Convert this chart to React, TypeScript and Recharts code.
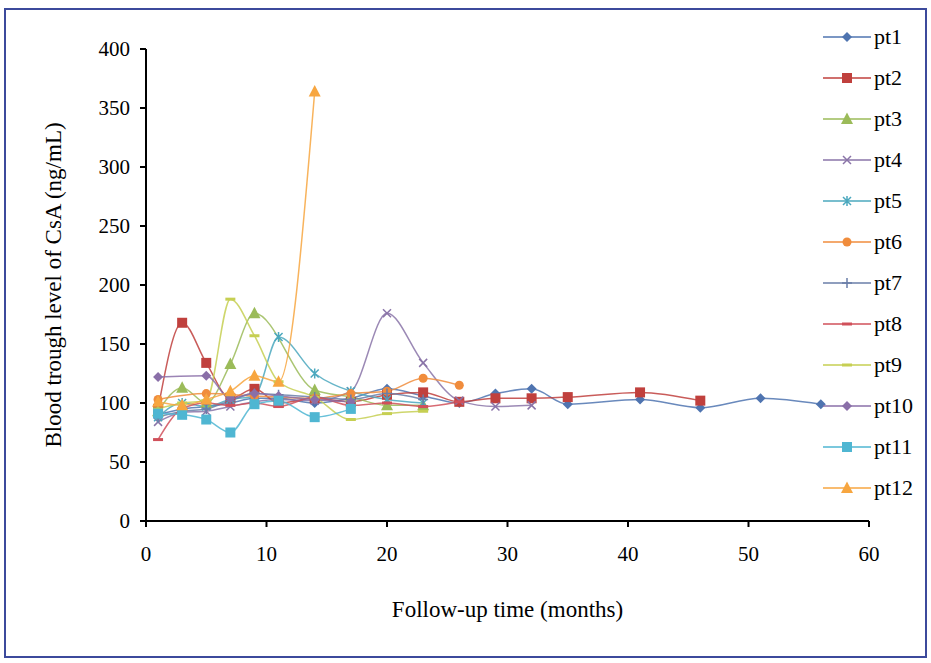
import React from 'react'
import { Legend, Line, LineChart, XAxis, YAxis } from 'recharts'

// follow-up visits (months) shared by all patients
const visitMonths = [1, 3, 5, 7, 9, 11, 14, 17, 20, 23, 26, 29, 32, 35, 41, 46, 51, 56]

// CsA trough levels (ng/mL), aligned with visitMonths; null = no measurement
const pt1Values = [90, 95, 97, 100, 104, 104, 100, 104, 112, 106, 100, 108, 112, 99, 103, 96, 104, 99]
const pt2Values = [95, 168, 134, 104, 112, 100, 104, 101, 107, 109, 101, 104, 104, 105, 109, 102]
const pt3Values = [93, 113, 100, 133, 176, null, 111, 105, 98, 98]
const pt4Values = [84, 92, 93, 97, 101, 103, 102, 110, 176, 134, 102, 97, 98]
const pt5Values = [88, 100, 97, 103, 106, 156, 125, 110, 103, 100]
const pt6Values = [103, null, 108, null, 106, null, 104, 108, 110, 121, 115]
const pt7Values = [88, 93, 95, 102, 108, 107, 105, 103, 108, 103]
const pt8Values = [69, 95, 100, 98, 100, 97, 105, 98, 100, 97, 101]
const pt9Values = [95, 100, 102, 188, 157, 118, 105, 86, 91, 93]
const pt10Values = [122, null, 123, 104, 108, 106, 103, 101]
const pt11Values = [91, 90, 86, 75, 99, 102, 88, 95]
const pt12Values = [101, 98, 103, 110, 123, 118, 364]

const xTicks = [0, 10, 20, 30, 40, 50, 60]
const yTicks = [0, 50, 100, 150, 200, 250, 300, 350, 400]

type Shape = 'diamond' | 'square' | 'triangle' | 'x' | 'star' | 'circle' | 'plus' | 'dash'

const series: { name: string; values: (number | null)[]; color: string; shape: Shape }[] = [
    { name: 'pt1', values: pt1Values, color: '#4f74b0', shape: 'diamond' },
    { name: 'pt2', values: pt2Values, color: '#c0403d', shape: 'square' },
    { name: 'pt3', values: pt3Values, color: '#9bbb59', shape: 'triangle' },
    { name: 'pt4', values: pt4Values, color: '#8a74a8', shape: 'x' },
    { name: 'pt5', values: pt5Values, color: '#4ba8be', shape: 'star' },
    { name: 'pt6', values: pt6Values, color: '#f08c3c', shape: 'circle' },
    { name: 'pt7', values: pt7Values, color: '#6a7ea8', shape: 'plus' },
    { name: 'pt8', values: pt8Values, color: '#d0505a', shape: 'dash' },
    { name: 'pt9', values: pt9Values, color: '#c6cf52', shape: 'dash' },
    { name: 'pt10', values: pt10Values, color: '#8a6fa8', shape: 'diamond' },
    { name: 'pt11', values: pt11Values, color: '#4fb6d2', shape: 'square' },
    { name: 'pt12', values: pt12Values, color: '#f7a640', shape: 'triangle' },
]

const FONT = '"Liberation Serif", "DejaVu Serif", serif'

const Marker = ({ x, y, shape, color }: { x: number; y: number; shape: Shape; color: string }) => {
    switch (shape) {
        case 'diamond':
            return <polygon points={`${x},${y - 5} ${x + 5},${y} ${x},${y + 5} ${x - 5},${y}`} fill={color} />
        case 'square':
            return <rect x={x - 5} y={y - 5} width={10} height={10} fill={color} />
        case 'triangle':
            return <polygon points={`${x},${y - 6.5} ${x + 6},${y + 5} ${x - 6},${y + 5}`} fill={color} />
        case 'x':
            return (
                <path d={`M${x - 4},${y - 4}L${x + 4},${y + 4}M${x - 4},${y + 4}L${x + 4},${y - 4}`} stroke={color} strokeWidth={1.5} />
            )
        case 'star':
            return (
                <path
                    d={`M${x - 4},${y - 4}L${x + 4},${y + 4}M${x - 4},${y + 4}L${x + 4},${y - 4}M${x},${y - 5}L${x},${y + 5}`}
                    stroke={color}
                    strokeWidth={1.5}
                />
            )
        case 'circle':
            return <circle cx={x} cy={y} r={4.5} fill={color} />
        case 'plus':
            return <path d={`M${x - 5},${y}L${x + 5},${y}M${x},${y - 5}L${x},${y + 5}`} stroke={color} strokeWidth={1.5} />
        case 'dash':
            return <path d={`M${x - 5},${y}L${x + 5},${y}`} stroke={color} strokeWidth={3} />
    }
}

const LegendList = () => (
    <div style={{ fontFamily: FONT, fontSize: 22, color: '#000' }}>
        {series.map(s => (
            <div key={s.name} style={{ height: 41, display: 'flex', alignItems: 'center' }}>
                <svg width={48} height={16} style={{ overflow: 'visible' }}>
                    <line x1={0} y1={8} x2={48} y2={8} stroke={s.color} strokeWidth={1.5} />
                    <Marker x={24} y={8} shape={s.shape} color={s.color} />
                </svg>
                <span style={{ marginLeft: 3 }}>{s.name}</span>
            </div>
        ))}
    </div>
)

const App = () => {
    return (
        <div
            style={{
                position: 'absolute',
                left: 4,
                top: 8,
                width: 919,
                height: 646,
                border: '2px solid #3c4a9c',
                background: '#fff',
            }}
        >
            <LineChart width={919} height={646} margin={{ top: 39, right: 56, bottom: 75, left: 80 }}>
                <XAxis
                    type={'number'}
                    dataKey={'month'}
                    domain={[0, 60]}
                    ticks={xTicks}
                    height={60}
                    stroke={'#000'}
                    strokeWidth={2}
                    tickSize={6}
                    tickMargin={19}
                    tick={{ fill: '#000', fontSize: 21, fontFamily: FONT }}
                    label={{
                        value: 'Follow-up time (months)',
                        position: 'bottom',
                        offset: 20,
                        fill: '#000',
                        fontSize: 23,
                        fontFamily: FONT,
                    }}
                />
                <YAxis
                    type={'number'}
                    domain={[0, 400]}
                    ticks={yTicks}
                    width={60}
                    stroke={'#000'}
                    strokeWidth={2}
                    tickSize={6}
                    tickMargin={10}
                    tick={{ fill: '#000', fontSize: 21, fontFamily: FONT }}
                    label={{
                        content: (props: any) => {
                            const vb = props.viewBox
                            const cx = vb.x - 33
                            const cy = vb.y + vb.height / 2
                            return (
                                <text
                                    x={cx}
                                    y={cy}
                                    transform={`rotate(-90, ${cx}, ${cy})`}
                                    textAnchor={'middle'}
                                    dominantBaseline={'central'}
                                    fontFamily={FONT}
                                    fontSize={23}
                                    fill={'#000'}
                                >
                                    Blood trough level of CsA (ng/mL)
                                </text>
                            )
                        },
                    }}
                />
                <Legend
                    layout={'vertical'}
                    align={'center'}
                    verticalAlign={'middle'}
                    content={() => <LegendList />}
                    wrapperStyle={{ left: 817, top: 6, width: 100 }}
                />
                {series.map(s => (
                    <Line
                        key={s.name}
                        name={s.name}
                        type={'monotone'}
                        data={visitMonths
                            .map((m, i) => ({ month: m, value: s.values[i] ?? null }))
                            .filter(d => d.value !== null)}
                        dataKey={'value'}
                        stroke={s.color}
                        strokeWidth={1.5}
                        strokeOpacity={0.85}
                        isAnimationActive={false}
                        activeDot={false}
                        dot={(p: any) => <Marker key={`${s.name}-${p.index}`} x={p.cx} y={p.cy} shape={s.shape} color={s.color} />}
                    />
                ))}
            </LineChart>
        </div>
    )
}

export default App
